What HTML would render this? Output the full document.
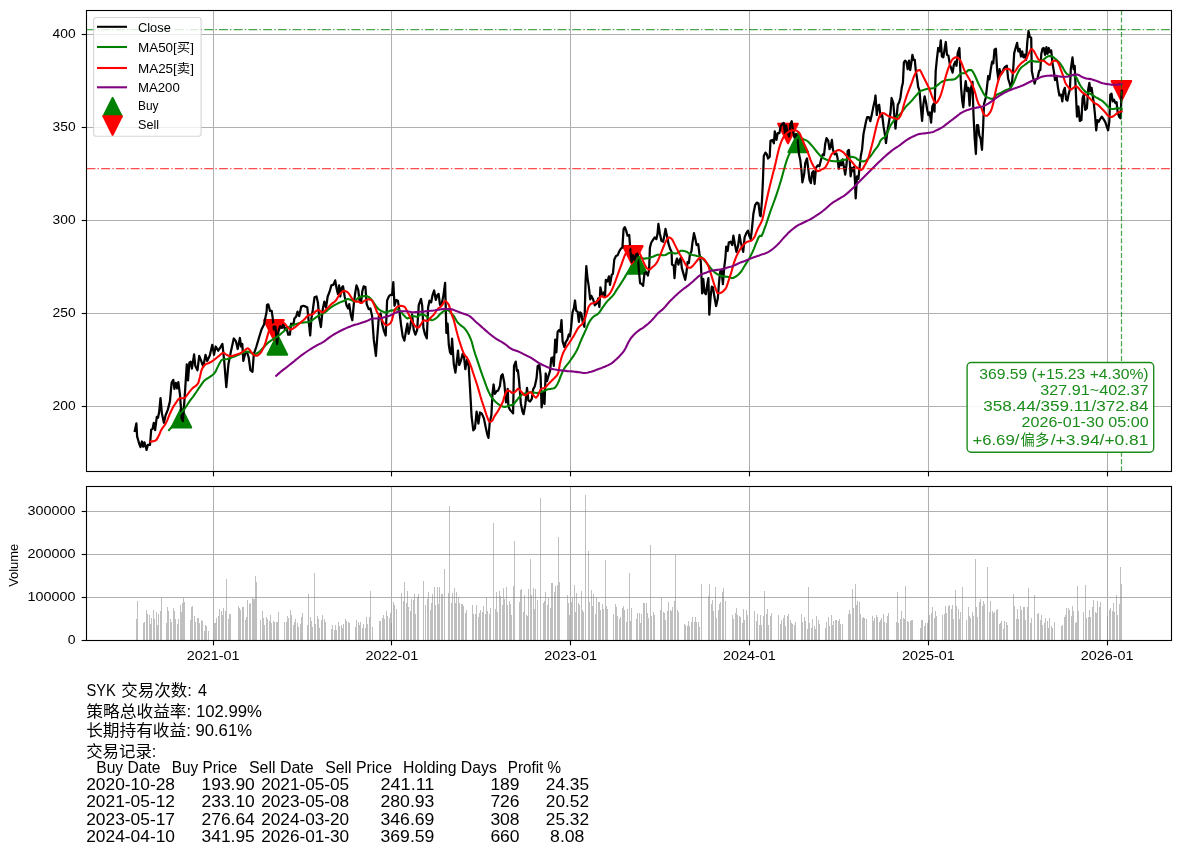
<!DOCTYPE html>
<html><head><meta charset="utf-8"><title>SYK</title><style>html,body{margin:0;padding:0;background:#fff}svg{display:block;will-change:transform}</style></head><body>
<svg width="1180" height="855" viewBox="0 0 1180 855" font-family="Liberation Sans, Noto Sans CJK SC, sans-serif">
<rect width="1180" height="855" fill="#fff"/>
<defs><clipPath id="c1"><rect x="86.5" y="10.5" width="1085.0" height="461.0"/></clipPath><clipPath id="c2"><rect x="86.5" y="486.5" width="1085.0" height="154.0"/></clipPath></defs>
<g clip-path="url(#c1)">
<line x1="213.50" x2="213.50" y1="10.5" y2="471.5" stroke="#b0b0b0" stroke-width="1.05"/>
<line x1="391.50" x2="391.50" y1="10.5" y2="471.5" stroke="#b0b0b0" stroke-width="1.05"/>
<line x1="570.50" x2="570.50" y1="10.5" y2="471.5" stroke="#b0b0b0" stroke-width="1.05"/>
<line x1="749.50" x2="749.50" y1="10.5" y2="471.5" stroke="#b0b0b0" stroke-width="1.05"/>
<line x1="928.50" x2="928.50" y1="10.5" y2="471.5" stroke="#b0b0b0" stroke-width="1.05"/>
<line x1="1107.50" x2="1107.50" y1="10.5" y2="471.5" stroke="#b0b0b0" stroke-width="1.05"/>
<line x1="86.5" x2="1171.5" y1="406.50" y2="406.50" stroke="#b0b0b0" stroke-width="1.05"/>
<line x1="86.5" x2="1171.5" y1="313.50" y2="313.50" stroke="#b0b0b0" stroke-width="1.05"/>
<line x1="86.5" x2="1171.5" y1="220.50" y2="220.50" stroke="#b0b0b0" stroke-width="1.05"/>
<line x1="86.5" x2="1171.5" y1="127.50" y2="127.50" stroke="#b0b0b0" stroke-width="1.05"/>
<line x1="86.5" x2="1171.5" y1="34.50" y2="34.50" stroke="#b0b0b0" stroke-width="1.05"/>
<path d="M181.38,407.93L171.56,427.57L191.20,427.57Z" fill="#008000" stroke="#008000" stroke-width="2.08" stroke-linejoin="round"/>
<path d="M277.34,335.01L267.52,354.65L287.16,354.65Z" fill="#008000" stroke="#008000" stroke-width="2.08" stroke-linejoin="round"/>
<path d="M637.18,254.03L627.36,273.67L647.00,273.67Z" fill="#008000" stroke="#008000" stroke-width="2.08" stroke-linejoin="round"/>
<path d="M798.26,132.55L788.44,152.19L808.08,152.19Z" fill="#008000" stroke="#008000" stroke-width="2.08" stroke-linejoin="round"/>
<path d="M273.91,339.76L264.09,320.12L283.73,320.12Z" fill="#ff0000" stroke="#ff0000" stroke-width="2.08" stroke-linejoin="round"/>
<path d="M632.78,265.69L622.96,246.05L642.60,246.05Z" fill="#ff0000" stroke="#ff0000" stroke-width="2.08" stroke-linejoin="round"/>
<path d="M787.98,143.38L778.16,123.74L797.80,123.74Z" fill="#ff0000" stroke="#ff0000" stroke-width="2.08" stroke-linejoin="round"/>
<path d="M1121.39,100.78L1111.57,81.14L1131.21,81.14Z" fill="#ff0000" stroke="#ff0000" stroke-width="2.08" stroke-linejoin="round"/>
<path d="M134.8,430.8L136.4,423.3L137.1,436.4L139.3,444.0L140.5,447.1L141.9,441.5L143.2,446.6L144.4,442.3L146.6,449.9L147.8,444.9L150.0,444.9L151.2,429.6L152.6,428.7L153.8,422.8L155.1,430.1L156.8,416.9L158.0,417.7L159.2,411.8L160.5,398.2L161.9,413.5L163.9,422.8L165.6,415.2L167.7,410.1L169.9,401.6L171.6,382.9L173.3,379.9L174.4,388.9L175.8,382.9L177.2,388.4L178.3,382.1L180.0,394.8L181.7,418.6L182.9,421.1L184.6,398.2L186.8,364.3L188.0,380.4L189.4,362.6L190.7,361.7L191.9,368.5L194.1,354.4L195.3,366.0L197.5,370.2L199.2,355.8L201.2,360.9L203.3,366.8L205.5,354.9L207.2,360.9L209.7,355.8L212.3,344.8L214.0,354.9L215.7,346.5L218.2,350.7L219.9,348.2L222.4,343.9L224.2,360.9L226.3,387.2L228.4,364.3L230.9,351.6L233.8,338.5L236.0,341.4L237.7,349.0L239.9,338.0L241.1,346.5L242.3,343.9L243.3,360.9L245.3,353.3L247.1,352.4L248.7,357.5L250.4,370.2L252.5,371.9L253.8,354.1L256.4,346.5L258.9,338.0L261.5,329.5L264.0,324.4L266.6,311.7L267.0,304.9L268.3,304.4L270.0,310.9L271.7,310.9L272.9,319.4L273.8,329.6L275.4,327.0L277.1,344.0L278.5,331.2L280.2,326.2L281.9,327.9L283.6,323.6L284.8,329.6L286.5,327.9L288.2,334.6L289.9,334.6L291.1,323.6L293.3,325.3L294.4,318.5L296.1,316.8L297.5,311.7L299.2,316.0L301.2,306.6L303.4,305.8L305.6,306.6L307.3,307.5L308.5,319.4L310.2,335.5L311.4,318.5L312.8,310.0L314.5,297.3L316.5,296.5L317.9,302.4L319.2,317.7L320.9,327.0L322.6,310.0L324.3,301.6L326.0,307.5L327.7,296.5L329.4,292.2L331.4,285.4L333.5,284.6L335.2,280.4L336.5,288.0L337.9,293.9L339.1,285.4L340.2,296.5L341.6,288.0L343.0,286.3L344.7,296.5L346.4,304.9L348.1,308.4L349.2,304.1L350.9,315.1L352.3,320.2L353.8,304.1L355.2,293.1L356.5,285.4L358.2,289.7L359.4,299.9L361.1,302.4L362.3,291.4L363.7,286.3L365.4,287.1L366.7,304.1L368.7,309.2L370.4,308.4L372.1,316.0L373.8,339.7L375.9,355.8L377.2,338.0L378.9,316.0L380.6,313.4L382.3,324.5L384.0,331.2L385.7,335.5L387.1,300.7L388.8,296.5L390.5,294.8L392.1,294.8L393.3,282.1L394.5,305.8L396.2,299.9L397.9,300.7L399.3,310.0L401.0,324.5L402.7,336.3L404.4,340.6L406.1,330.4L407.4,323.6L408.6,333.8L410.3,326.2L412.0,314.3L413.7,329.6L415.4,334.6L417.1,330.4L418.8,304.9L421.0,299.0L422.2,305.8L423.4,327.9L425.1,334.6L426.8,338.4L428.1,307.5L429.5,300.7L431.2,302.4L432.4,295.6L434.1,290.5L435.8,299.9L437.4,294.8L438.6,293.9L440.0,304.9L441.7,304.1L443.4,295.6L445.1,282.9L446.4,332.9L447.6,323.6L448.8,344.8L450.0,352.4L451.2,354.0L452.1,338.7L453.8,364.2L455.4,372.6L457.1,359.1L458.0,350.6L459.2,365.0L460.9,360.8L462.6,354.0L463.9,355.7L465.3,369.2L467.0,359.9L468.7,365.9L469.9,386.2L471.6,416.7L473.3,430.3L474.9,428.6L476.6,411.7L478.4,423.5L480.0,412.5L481.7,413.4L483.9,418.4L485.6,426.9L487.3,434.6L488.5,437.9L489.7,422.7L491.4,415.1L492.4,394.7L493.6,384.5L494.8,393.8L496.5,391.3L498.2,390.4L499.9,386.2L501.2,376.0L502.6,374.3L504.3,382.8L506.0,402.3L507.7,388.8L508.4,406.6L510.1,410.0L511.8,411.7L513.1,413.4L514.0,365.9L515.7,361.6L516.9,370.9L517.9,370.1L519.1,381.1L520.8,403.2L522.5,411.7L523.6,414.2L525.3,404.9L527.0,387.9L528.4,400.6L530.1,401.5L531.8,398.9L533.1,389.6L534.8,386.2L536.5,378.6L537.7,365.9L539.4,365.0L540.6,376.0L541.6,407.4L543.3,393.0L544.5,404.0L545.7,373.5L547.0,381.1L548.7,375.2L550.1,370.9L551.3,358.2L552.5,357.4L553.8,365.9L555.2,339.6L556.4,352.3L557.6,331.9L558.9,330.2L560.3,331.9L561.5,320.1L562.6,341.3L564.4,347.2L565.7,342.1L567.4,339.6L568.8,334.5L570.0,336.2L571.1,327.7L572.5,312.4L573.9,308.2L575.0,300.5L576.2,310.7L577.6,311.6L578.9,321.8L580.1,312.4L581.3,313.3L582.7,321.8L584.4,326.8L585.5,283.2L586.3,266.2L587.5,278.1L588.8,286.6L590.2,299.3L591.4,295.9L593.1,299.3L594.8,305.3L596.5,303.6L598.2,298.5L599.4,307.0L600.4,287.4L602.1,295.1L603.8,292.5L605.0,296.8L605.8,279.8L607.5,281.5L608.9,276.4L610.0,284.9L611.7,274.7L612.9,273.9L614.3,259.5L616.0,256.1L617.7,255.2L619.4,251.0L621.1,248.4L622.4,247.6L623.6,228.9L624.8,227.2L626.2,230.6L627.5,235.7L629.2,234.9L630.4,251.0L631.6,262.0L632.9,255.2L634.6,260.3L636.0,254.4L637.7,253.5L638.9,270.5L640.1,283.2L641.8,284.1L643.1,285.8L644.5,273.0L646.2,272.2L647.9,275.6L649.1,269.6L649.9,247.6L651.3,242.5L653.0,239.9L654.7,237.4L656.4,239.1L657.5,234.0L658.4,223.8L659.8,233.2L661.4,240.8L663.1,241.7L664.3,235.7L665.5,228.9L666.9,235.7L668.6,244.2L670.3,249.3L671.6,251.8L672.0,264.6L673.7,265.4L674.5,278.1L675.7,262.9L677.0,258.6L678.4,264.6L679.6,260.3L680.8,257.8L681.8,267.9L683.5,273.9L685.2,279.8L686.4,273.0L687.6,262.0L688.9,262.9L689.8,255.2L691.5,251.0L692.6,241.7L694.0,233.2L695.4,239.1L696.6,245.0L698.2,244.2L699.4,253.5L700.8,262.0L701.6,279.8L702.1,293.4L703.3,279.0L704.5,292.5L705.9,294.2L707.2,284.9L708.4,278.1L709.3,314.6L710.6,296.8L711.8,286.6L713.0,287.4L714.4,296.8L716.1,306.1L717.8,298.5L719.1,281.5L720.3,271.3L721.5,269.6L722.9,284.1L724.2,267.9L725.4,257.8L726.2,246.7L727.6,251.0L728.8,242.5L730.5,241.7L732.2,245.0L733.4,235.7L734.7,243.3L736.4,251.8L738.1,245.9L739.5,234.9L740.7,241.7L741.9,246.7L743.2,251.8L744.6,237.4L746.3,233.2L748.0,230.6L749.6,236.6L750.8,239.1L752.0,228.1L753.4,213.7L755.1,205.2L756.8,202.6L758.5,203.5L760.0,215.4L760.7,216.2L762.0,200.1L762.9,181.4L763.8,156.0L765.5,152.6L766.8,154.3L768.0,158.5L769.7,156.8L770.5,140.7L772.2,139.9L773.9,143.3L774.8,131.4L776.5,139.9L777.7,133.1L779.4,133.1L780.7,126.3L782.4,123.8L783.8,122.9L785.0,133.9L786.1,125.5L787.5,132.2L789.2,136.5L790.5,123.8L791.7,121.2L792.9,129.7L794.3,137.3L796.0,133.9L797.7,140.7L799.0,154.3L800.2,159.4L801.4,169.6L802.4,182.3L804.1,174.6L805.3,162.8L807.0,158.5L808.2,168.7L809.5,179.7L810.9,183.1L812.1,172.9L813.3,171.2L814.6,184.0L816.0,167.8L817.7,165.3L819.4,166.2L821.1,159.4L822.8,154.3L824.0,155.1L825.2,144.1L826.5,138.2L828.2,140.7L829.6,149.2L830.8,145.8L831.9,139.9L833.0,150.0L834.7,154.3L836.4,153.4L837.5,157.7L838.7,168.7L840.1,161.1L841.4,165.3L842.6,159.4L843.8,166.2L845.2,174.6L846.5,164.5L847.7,150.9L848.9,150.0L849.9,162.8L850.6,176.3L852.0,167.8L853.3,171.2L854.0,167.0L855.0,181.4L855.7,198.4L857.0,176.3L858.4,178.9L859.6,167.0L860.8,156.0L862.1,149.2L863.5,133.9L864.7,128.0L865.9,122.0L867.2,117.0L868.9,117.0L870.3,121.2L871.5,116.1L873.2,107.6L874.9,100.0L875.5,95.5L876.8,115.0L878.0,105.7L879.2,104.8L880.5,116.7L882.2,115.0L883.6,126.9L884.8,133.7L886.0,143.0L887.3,132.0L889.0,121.8L890.4,113.3L891.6,98.0L893.3,103.1L894.4,116.7L895.5,128.6L896.6,116.7L897.8,104.8L899.2,102.3L900.5,97.2L901.7,87.8L902.9,82.8L903.9,62.4L905.1,60.7L906.3,61.6L907.7,69.2L909.0,60.7L910.2,70.0L911.4,62.4L912.4,54.8L913.6,59.9L914.8,59.9L915.8,70.9L917.0,77.7L918.2,87.0L919.5,90.4L920.9,108.2L922.1,120.9L923.3,104.8L924.6,96.3L926.0,102.3L927.2,109.9L928.4,115.0L929.7,112.5L931.1,122.6L932.3,106.5L933.5,104.0L934.5,111.6L935.7,70.9L936.9,59.0L938.2,48.0L939.6,51.4L940.8,40.4L941.9,56.5L943.3,57.3L944.7,48.8L945.8,42.0L947.0,54.8L948.4,55.6L949.8,64.1L951.4,69.2L952.6,72.6L953.8,65.0L955.2,61.6L956.5,65.8L957.7,53.1L959.4,48.0L960.3,69.2L961.1,87.8L962.3,101.4L963.3,107.4L964.5,91.2L965.7,81.1L967.0,91.2L968.4,87.8L969.6,105.7L970.8,88.7L972.5,81.9L973.5,115.0L974.7,138.7L975.9,154.0L976.9,125.2L978.1,125.2L979.3,135.3L980.6,138.7L982.0,149.8L983.2,125.2L984.0,104.0L985.7,98.0L987.1,86.2L988.2,76.0L989.4,79.4L990.8,69.2L992.1,61.6L993.3,63.3L994.5,49.7L995.9,48.8L997.2,70.9L998.4,79.4L999.6,69.2L1001.0,74.3L1002.3,72.6L1003.5,69.2L1005.2,66.7L1006.9,65.8L1008.1,78.5L1009.5,82.8L1010.8,87.8L1012.0,82.8L1013.2,69.2L1014.2,53.1L1015.4,48.8L1017.1,42.9L1018.3,51.4L1019.6,48.8L1021.0,56.5L1022.2,51.4L1023.4,57.3L1024.7,54.8L1026.1,59.9L1027.3,42.0L1028.5,31.0L1029.8,37.0L1031.2,37.8L1031.8,70.9L1033.2,77.7L1034.6,83.6L1035.8,79.4L1037.5,78.5L1039.1,70.9L1040.3,70.0L1041.3,53.9L1042.5,48.8L1043.7,48.0L1045.1,54.8L1046.4,47.1L1047.6,53.9L1048.8,48.0L1050.0,52.2L1051.2,50.5L1052.6,64.1L1053.8,70.9L1055.0,80.2L1056.7,77.7L1058.0,87.8L1059.4,95.5L1061.1,94.6L1062.3,101.4L1063.5,91.2L1064.8,87.8L1066.2,99.7L1067.4,100.6L1068.5,94.6L1069.9,89.5L1070.8,69.2L1072.5,57.3L1073.6,69.2L1074.7,65.8L1075.8,91.2L1077.0,116.7L1078.4,106.5L1079.8,120.9L1081.4,120.1L1082.6,98.0L1083.8,94.6L1085.2,109.9L1086.9,108.2L1088.2,89.5L1089.4,82.8L1090.3,91.2L1091.6,87.8L1092.8,96.3L1094.0,104.8L1095.0,115.0L1096.2,130.3L1097.4,120.1L1098.7,121.8L1100.1,119.2L1101.8,116.7L1103.5,119.2L1105.2,121.8L1106.9,126.9L1108.1,130.3L1109.3,121.8L1110.3,94.6L1111.5,93.8L1112.7,101.4L1114.0,99.7L1115.4,103.1L1116.6,102.3L1117.7,112.5L1119.1,116.7L1120.5,118.4L1121.7,90.9" fill="none" stroke="#000" stroke-width="2.25" stroke-linejoin="round" stroke-linecap="square"/>
<path d="M169.0,430.1L170.5,428.4L172.0,426.5L173.5,424.5L175.0,422.2L176.5,419.6L178.0,417.0L179.5,414.7L181.0,412.9L182.5,411.3L184.0,409.6L185.5,407.5L187.0,405.2L188.5,402.8L190.0,400.7L191.5,398.7L193.0,396.8L194.5,394.7L196.0,392.5L197.5,390.2L199.0,387.9L200.5,385.8L202.0,383.6L203.5,381.6L205.0,380.1L206.5,379.0L208.0,378.1L209.5,377.2L211.0,376.1L212.5,375.0L214.0,373.7L215.5,371.7L217.0,368.4L218.5,365.4L220.0,362.5L221.5,360.1L223.0,359.5L224.5,359.3L226.0,359.3L227.5,359.0L229.0,358.6L230.5,358.0L232.0,357.4L233.5,356.8L235.0,356.2L236.5,355.6L238.0,355.0L239.5,354.3L241.0,353.6L242.5,353.0L244.0,352.4L245.5,351.8L247.0,351.6L248.5,351.8L250.0,352.3L251.5,353.1L253.0,354.2L254.5,354.4L256.0,353.9L257.5,353.0L259.0,352.1L260.5,350.7L262.0,349.0L263.5,347.4L265.0,345.9L266.5,344.3L268.0,342.8L269.5,341.6L271.0,340.6L272.5,339.7L274.0,338.7L275.5,337.7L277.0,336.8L278.5,335.7L280.0,334.6L281.5,333.3L283.0,332.0L284.5,330.7L286.0,329.4L287.5,328.1L289.0,327.0L290.5,326.2L292.0,325.6L293.5,325.0L295.0,324.4L296.5,323.9L298.0,323.4L299.5,323.0L301.0,322.8L302.5,322.6L304.0,322.5L305.5,322.3L307.0,322.2L308.5,322.0L310.0,321.7L311.5,320.8L313.0,319.6L314.5,318.5L316.0,317.4L317.5,316.4L319.0,315.4L320.5,314.6L322.0,313.9L323.5,313.2L325.0,312.3L326.5,311.1L328.0,309.8L329.5,308.5L331.0,307.4L332.5,306.4L334.0,305.4L335.5,304.6L337.0,303.8L338.5,303.0L340.0,302.4L341.5,301.8L343.0,301.2L344.5,300.5L346.0,299.6L347.5,299.0L349.0,299.2L350.5,299.7L352.0,300.4L353.5,301.4L355.0,301.3L356.5,299.4L358.0,298.0L359.5,297.2L361.0,296.7L362.5,296.4L364.0,296.1L365.5,296.0L367.0,296.1L368.5,296.9L370.0,298.0L371.5,299.6L373.0,301.6L374.5,303.9L376.0,306.2L377.5,308.0L379.0,309.5L380.5,310.5L382.0,311.3L383.5,311.9L385.0,312.5L386.5,312.5L388.0,311.8L389.5,311.0L391.0,310.6L392.5,310.4L394.0,310.1L395.5,309.6L397.0,309.2L398.5,309.5L400.0,310.8L401.5,312.3L403.0,314.3L404.5,316.1L406.0,317.6L407.5,318.5L409.0,318.1L410.5,317.1L412.0,316.2L413.5,316.0L415.0,316.4L416.5,316.8L418.0,316.5L419.5,315.3L421.0,314.3L422.5,314.4L424.0,314.9L425.5,315.6L427.0,316.8L428.5,318.0L430.0,319.5L431.5,320.2L433.0,319.9L434.5,319.2L436.0,318.3L437.5,317.0L439.0,315.3L440.5,313.8L442.0,312.4L443.5,311.2L445.0,310.6L446.5,310.2L448.0,310.1L449.5,311.2L451.0,313.2L452.5,314.6L454.0,316.2L455.5,318.9L457.0,321.6L458.5,323.3L460.0,324.7L461.5,325.9L463.0,327.0L464.5,328.3L466.0,330.1L467.5,332.5L469.0,335.2L470.5,338.5L472.0,342.7L473.5,348.5L475.0,353.5L476.5,357.9L478.0,362.3L479.5,366.9L481.0,371.3L482.5,375.5L484.0,379.6L485.5,383.8L487.0,388.0L488.5,391.5L490.0,394.6L491.5,397.1L493.0,399.0L494.5,400.7L496.0,402.2L497.5,403.5L499.0,404.6L500.5,405.4L502.0,406.2L503.5,406.8L505.0,406.9L506.5,406.5L508.0,406.0L509.5,405.6L511.0,405.2L512.5,404.8L514.0,403.8L515.5,401.9L517.0,400.0L518.5,398.0L520.0,396.3L521.5,394.9L523.0,393.9L524.5,393.5L526.0,393.3L527.5,393.0L529.0,392.6L530.5,392.3L532.0,392.2L533.5,392.4L535.0,392.7L536.5,393.0L538.0,392.9L539.5,392.6L541.0,392.1L542.5,391.6L544.0,390.9L545.5,390.2L547.0,389.6L548.5,389.3L550.0,389.0L551.5,388.7L553.0,388.4L554.5,388.0L556.0,386.5L557.5,383.9L559.0,380.7L560.5,376.7L562.0,373.1L563.5,369.9L565.0,367.3L566.5,365.4L568.0,363.6L569.5,361.6L571.0,359.5L572.5,357.3L574.0,355.1L575.5,352.7L577.0,350.0L578.5,346.6L580.0,342.9L581.5,339.3L583.0,336.0L584.5,332.7L586.0,329.4L587.5,325.8L589.0,322.5L590.5,320.1L592.0,318.2L593.5,316.6L595.0,315.6L596.5,314.8L598.0,313.9L599.5,312.2L601.0,309.9L602.5,307.7L604.0,305.6L605.5,303.5L607.0,301.6L608.5,299.9L610.0,298.5L611.5,297.1L613.0,295.4L614.5,293.3L616.0,290.9L617.5,288.5L619.0,286.3L620.5,284.1L622.0,281.8L623.5,279.4L625.0,276.9L626.5,274.3L628.0,271.9L629.5,269.8L631.0,267.9L632.5,265.9L634.0,264.1L635.5,262.3L637.0,259.9L638.5,257.1L640.0,257.2L641.5,258.1L643.0,258.6L644.5,258.6L646.0,258.4L647.5,258.2L649.0,257.9L650.5,257.5L652.0,257.0L653.5,256.5L655.0,255.8L656.5,255.1L658.0,254.7L659.5,254.8L661.0,254.9L662.5,255.1L664.0,255.2L665.5,255.0L667.0,254.1L668.5,253.2L670.0,252.7L671.5,252.8L673.0,253.1L674.5,253.4L676.0,253.5L677.5,253.0L679.0,251.8L680.5,250.8L682.0,250.7L683.5,250.9L685.0,251.2L686.5,251.7L688.0,252.7L689.5,253.8L691.0,254.5L692.5,254.9L694.0,255.2L695.5,255.5L697.0,255.9L698.5,256.2L700.0,256.6L701.5,257.3L703.0,258.8L704.5,260.6L706.0,262.3L707.5,264.1L709.0,265.9L710.5,267.8L712.0,269.7L713.5,271.3L715.0,272.6L716.5,273.6L718.0,274.5L719.5,275.1L721.0,275.7L722.5,276.2L724.0,276.5L725.5,276.6L727.0,276.8L728.5,277.1L730.0,277.6L731.5,278.1L733.0,278.0L734.5,277.3L736.0,276.3L737.5,275.3L739.0,274.0L740.5,272.3L742.0,270.3L743.5,267.7L745.0,265.2L746.5,262.9L748.0,260.5L749.5,257.9L751.0,255.1L752.5,252.0L754.0,248.6L755.5,244.7L757.0,241.1L758.5,237.5L760.0,235.7L761.5,236.1L763.0,232.8L764.5,228.6L766.0,224.6L767.5,220.2L769.0,215.6L770.5,211.1L772.0,207.0L773.5,203.0L775.0,198.9L776.5,194.6L778.0,190.0L779.5,185.3L781.0,180.4L782.5,174.9L784.0,169.4L785.5,164.3L787.0,159.6L788.5,155.6L790.0,152.6L791.5,149.5L793.0,146.0L794.5,142.8L796.0,139.6L797.5,137.1L799.0,136.5L800.5,137.4L802.0,138.6L803.5,139.3L805.0,139.9L806.5,140.5L808.0,141.5L809.5,143.0L811.0,144.7L812.5,146.4L814.0,148.2L815.5,150.1L817.0,152.0L818.5,153.8L820.0,155.4L821.5,156.8L823.0,157.9L824.5,158.8L826.0,159.5L827.5,160.0L829.0,160.4L830.5,160.8L832.0,161.0L833.5,161.2L835.0,161.3L836.5,161.4L838.0,161.3L839.5,160.9L841.0,160.4L842.5,160.1L844.0,159.9L845.5,159.7L847.0,159.3L848.5,158.4L850.0,157.2L851.5,156.8L853.0,157.0L854.5,157.4L856.0,158.0L857.5,159.4L859.0,160.3L860.5,160.9L862.0,161.3L863.5,161.4L865.0,160.9L866.5,160.1L868.0,158.9L869.5,157.3L871.0,155.5L872.5,153.5L874.0,151.2L875.5,149.2L877.0,147.3L878.5,145.1L880.0,141.6L881.5,139.3L883.0,138.2L884.5,137.3L886.0,135.6L887.5,132.6L889.0,128.8L890.5,125.5L892.0,123.1L893.5,121.1L895.0,119.3L896.5,117.6L898.0,116.1L899.5,114.7L901.0,113.1L902.5,111.2L904.0,109.1L905.5,107.1L907.0,105.4L908.5,103.9L910.0,102.5L911.5,100.9L913.0,99.2L914.5,97.4L916.0,95.6L917.5,94.0L919.0,92.3L920.5,91.2L922.0,90.4L923.5,89.9L925.0,89.5L926.5,89.1L928.0,88.8L929.5,88.6L931.0,88.5L932.5,88.3L934.0,87.9L935.5,86.8L937.0,85.6L938.5,84.4L940.0,83.0L941.5,82.0L943.0,81.2L944.5,80.6L946.0,80.2L947.5,80.0L949.0,79.8L950.5,79.7L952.0,79.6L953.5,79.5L955.0,79.1L956.5,77.9L958.0,76.5L959.5,74.7L961.0,73.5L962.5,73.2L964.0,73.1L965.5,72.9L967.0,71.4L968.5,70.1L970.0,70.0L971.5,70.1L973.0,71.9L974.5,74.8L976.0,78.0L977.5,81.5L979.0,84.7L980.5,87.7L982.0,90.6L983.5,93.6L985.0,95.6L986.5,96.8L988.0,97.6L989.5,98.2L991.0,98.7L992.5,98.9L994.0,97.8L995.5,95.8L997.0,94.5L998.5,93.9L1000.0,93.3L1001.5,92.7L1003.0,91.7L1004.5,90.8L1006.0,90.1L1007.5,89.6L1009.0,89.0L1010.5,87.8L1012.0,85.7L1013.5,83.1L1015.0,79.7L1016.5,75.6L1018.0,72.4L1019.5,69.7L1021.0,67.8L1022.5,66.5L1024.0,65.5L1025.5,64.3L1027.0,63.2L1028.5,62.2L1030.0,61.2L1031.5,60.7L1033.0,61.0L1034.5,61.4L1036.0,61.6L1037.5,61.6L1039.0,61.6L1040.5,61.5L1042.0,60.7L1043.5,59.5L1045.0,58.4L1046.5,57.1L1048.0,56.3L1049.5,56.0L1051.0,56.1L1052.5,56.7L1054.0,57.7L1055.5,59.0L1057.0,60.3L1058.5,61.7L1060.0,63.4L1061.5,65.5L1063.0,67.9L1064.5,70.9L1066.0,73.0L1067.5,74.4L1069.0,75.1L1070.5,75.1L1072.0,75.1L1073.5,75.3L1075.0,76.2L1076.5,77.7L1078.0,81.0L1079.5,84.1L1081.0,86.5L1082.5,88.6L1084.0,90.3L1085.5,91.8L1087.0,92.6L1088.5,93.1L1090.0,93.7L1091.5,94.5L1093.0,95.4L1094.5,96.4L1096.0,97.3L1097.5,98.1L1099.0,99.0L1100.5,99.9L1102.0,100.7L1103.5,101.9L1105.0,103.4L1106.5,105.0L1108.0,106.7L1109.5,108.1L1111.0,108.7L1112.5,109.0L1114.0,109.0L1115.5,108.6L1117.0,108.2L1118.5,108.3L1120.0,108.5L1121.5,109.0L1121.7,109.1" fill="none" stroke="#008000" stroke-width="2.08" stroke-linejoin="round" stroke-linecap="square"/>
<path d="M150.4,441.5L151.9,441.4L153.4,441.2L154.9,440.8L156.4,439.9L157.9,437.4L159.4,434.3L160.9,430.6L162.4,428.1L163.9,426.2L165.4,424.1L166.9,421.1L168.4,417.4L169.9,413.7L171.4,410.5L172.9,407.6L174.4,405.0L175.9,402.8L177.4,400.5L178.9,398.7L180.4,398.2L181.9,398.2L183.4,398.2L184.9,398.0L186.4,396.0L187.9,393.8L189.4,391.9L190.9,390.1L192.4,388.4L193.9,387.1L195.4,386.1L196.9,384.9L198.4,382.7L199.9,376.9L201.4,370.5L202.9,367.2L204.4,365.2L205.9,364.1L207.4,363.5L208.9,363.0L210.4,362.3L211.9,361.3L213.4,360.3L214.9,359.2L216.4,358.0L217.9,356.8L219.4,355.6L220.9,354.2L222.4,353.0L223.9,352.9L225.4,354.0L226.9,355.0L228.4,355.7L229.9,356.1L231.4,356.0L232.9,355.7L234.4,355.2L235.9,354.8L237.4,354.3L238.9,353.8L240.4,353.2L241.9,352.3L243.4,351.2L244.9,350.1L246.4,348.9L247.9,348.2L249.4,349.5L250.9,351.7L252.4,353.6L253.9,355.0L255.4,355.6L256.9,355.8L258.4,355.1L259.9,353.6L261.4,351.8L262.9,349.1L264.4,345.8L265.9,341.4L267.4,336.1L268.9,331.0L270.4,327.0L271.9,325.3L273.4,324.3L274.9,323.7L276.4,323.4L277.9,323.1L279.4,322.9L280.9,322.8L282.4,322.8L283.9,323.1L285.4,324.4L286.9,326.5L288.4,328.0L289.9,329.3L291.4,329.4L292.9,328.7L294.4,327.7L295.9,326.6L297.4,325.2L298.9,323.9L300.4,322.7L301.9,321.4L303.4,320.2L304.9,318.8L306.4,317.0L307.9,315.5L309.4,314.9L310.9,314.7L312.4,314.4L313.9,313.4L315.4,311.5L316.9,310.6L318.4,310.1L319.9,310.7L321.4,312.3L322.9,312.4L324.4,311.2L325.9,309.6L327.4,308.2L328.9,306.7L330.4,305.1L331.9,303.7L333.4,302.6L334.9,301.5L336.4,299.8L337.9,297.2L339.4,294.6L340.9,293.0L342.4,291.6L343.9,290.9L345.4,291.1L346.9,291.8L348.4,293.0L349.9,295.2L351.4,297.6L352.9,299.6L354.4,301.2L355.9,301.6L357.4,301.6L358.9,301.6L360.4,302.9L361.9,303.0L363.4,301.6L364.9,300.5L366.4,299.9L367.9,299.4L369.4,299.4L370.9,299.7L372.4,301.1L373.9,304.2L375.4,307.9L376.9,311.8L378.4,314.4L379.9,316.5L381.4,319.0L382.9,322.0L384.4,323.9L385.9,325.1L387.4,325.2L388.9,324.4L390.4,323.2L391.9,320.2L393.4,314.4L394.9,309.6L396.4,307.5L397.9,306.5L399.4,306.0L400.9,305.8L402.4,306.0L403.9,306.4L405.4,307.7L406.9,310.7L408.4,313.7L409.9,316.8L411.4,319.8L412.9,322.7L414.4,325.1L415.9,326.7L417.4,327.7L418.9,327.3L420.4,325.1L421.9,322.8L423.4,320.5L424.9,320.4L426.4,320.9L427.9,320.9L429.4,319.3L430.9,317.5L432.4,316.1L433.9,314.5L435.4,312.3L436.9,309.9L438.4,308.4L439.9,307.3L441.4,306.1L442.9,303.9L444.4,301.2L445.9,301.1L447.4,302.9L448.9,304.9L450.4,309.9L451.9,315.0L453.4,318.8L454.9,324.3L456.4,330.6L457.9,336.1L459.4,341.1L460.9,345.6L462.4,350.2L463.9,353.9L465.4,355.9L466.9,357.5L468.4,360.2L469.9,363.7L471.4,367.6L472.9,372.2L474.4,376.8L475.9,381.2L477.4,385.8L478.9,390.9L480.4,396.3L481.9,401.1L483.4,405.5L484.9,410.1L486.4,414.8L487.9,418.9L489.4,421.8L490.9,421.8L492.4,420.5L493.9,417.2L495.4,414.9L496.9,412.7L498.4,410.2L499.9,407.6L501.4,404.8L502.9,401.7L504.4,396.4L505.9,392.3L507.4,390.5L508.9,390.7L510.4,391.4L511.9,392.9L513.4,392.8L514.9,392.1L516.4,390.5L517.9,388.8L519.4,389.4L520.9,391.3L522.4,393.0L523.9,394.9L525.4,395.5L526.9,394.3L528.4,393.0L529.9,392.4L531.4,392.3L532.9,394.7L534.4,396.5L535.9,397.7L537.4,396.2L538.9,393.3L540.4,389.7L541.9,388.5L543.4,388.2L544.9,387.7L546.4,386.3L547.9,384.6L549.4,383.0L550.9,381.6L552.4,380.1L553.9,378.6L555.4,377.0L556.9,375.5L558.4,372.5L559.9,363.8L561.4,357.8L562.9,353.5L564.4,350.4L565.9,347.8L567.4,345.5L568.9,343.3L570.4,341.1L571.9,338.8L573.4,336.4L574.9,333.7L576.4,330.9L577.9,328.4L579.4,326.5L580.9,325.2L582.4,323.8L583.9,321.2L585.4,317.4L586.9,312.2L588.4,307.1L589.9,304.8L591.4,303.6L592.9,303.2L594.4,302.9L595.9,302.1L597.4,300.9L598.9,299.3L600.4,296.9L601.9,296.0L603.4,297.3L604.9,297.5L606.4,296.7L607.9,295.6L609.4,294.0L610.9,291.7L612.4,288.8L613.9,285.1L615.4,281.2L616.9,277.0L618.4,272.9L619.9,268.7L621.4,264.6L622.9,260.3L624.4,256.3L625.9,253.0L627.4,250.4L628.9,248.0L630.4,246.2L631.9,245.9L633.4,246.4L634.9,247.2L636.4,248.3L637.9,250.3L639.4,252.9L640.9,255.8L642.4,259.4L643.9,262.8L645.4,266.2L646.9,268.3L648.4,269.5L649.9,269.4L651.4,268.1L652.9,266.7L654.4,265.5L655.9,263.9L657.4,261.7L658.9,258.3L660.4,254.6L661.9,250.8L663.4,247.0L664.9,243.3L666.4,240.2L667.9,237.8L669.4,237.5L670.9,238.1L672.4,239.8L673.9,242.9L675.4,245.9L676.9,248.9L678.4,251.8L679.9,254.5L681.4,257.0L682.9,259.7L684.4,262.3L685.9,265.2L687.4,267.2L688.9,267.8L690.4,267.8L691.9,266.7L693.4,265.2L694.9,263.4L696.4,261.4L697.9,259.5L699.4,257.9L700.9,257.8L702.4,258.2L703.9,258.9L705.4,260.7L706.9,263.1L708.4,266.4L709.9,270.6L711.4,275.4L712.9,280.4L714.4,285.0L715.9,289.3L717.4,293.1L718.9,293.3L720.4,293.0L721.9,292.3L723.4,291.1L724.9,289.6L726.4,287.2L727.9,282.9L729.4,278.1L730.9,273.7L732.4,268.4L733.9,262.9L735.4,258.8L736.9,255.2L738.4,252.2L739.9,249.7L741.4,247.4L742.9,245.5L744.4,243.9L745.9,242.6L747.4,241.7L748.9,241.3L750.4,241.0L751.9,240.2L753.4,238.6L754.9,236.2L756.4,232.2L757.9,228.5L759.4,225.8L760.9,223.1L762.4,219.5L763.9,213.0L765.4,205.6L766.9,198.7L768.4,192.0L769.9,185.7L771.4,179.8L772.9,173.8L774.4,167.9L775.9,161.8L777.4,155.0L778.9,148.9L780.4,144.1L781.9,140.2L783.4,137.3L784.9,135.0L786.4,133.4L787.9,132.2L789.4,131.3L790.9,130.8L792.4,130.4L793.9,130.2L795.4,130.3L796.9,130.9L798.4,131.8L799.9,133.9L801.4,137.1L802.9,140.8L804.4,144.7L805.9,148.1L807.4,151.4L808.9,155.4L810.4,159.7L811.9,163.2L813.4,166.0L814.9,168.1L816.4,170.1L817.9,171.2L819.4,170.8L820.9,169.9L822.4,169.1L823.9,168.5L825.4,167.3L826.9,164.7L828.4,161.6L829.9,157.9L831.4,154.6L832.9,153.1L834.4,152.1L835.9,151.2L837.4,150.3L838.9,150.1L840.4,150.5L841.9,151.3L843.4,152.4L844.9,154.0L846.4,155.7L847.9,157.7L849.4,159.3L850.9,160.8L852.4,162.4L853.9,164.4L855.4,166.2L856.9,167.4L858.4,168.5L859.9,169.4L861.4,169.9L862.9,168.5L864.4,165.8L865.9,163.3L867.4,160.2L868.9,156.2L870.4,150.9L871.9,145.2L873.4,139.2L874.9,132.8L876.4,126.2L877.9,120.7L879.4,116.3L880.9,113.9L882.4,113.1L883.9,113.2L885.4,114.2L886.9,115.2L888.4,116.0L889.9,116.7L891.4,117.2L892.9,117.7L894.4,118.1L895.9,118.8L897.4,119.2L898.9,118.3L900.4,116.0L901.9,112.4L903.4,106.5L904.9,101.3L906.4,96.7L907.9,92.5L909.4,88.7L910.9,85.0L912.4,80.8L913.9,76.5L915.4,73.3L916.9,71.0L918.4,70.3L919.9,70.0L921.4,72.6L922.9,75.8L924.4,78.8L925.9,81.8L927.4,84.7L928.9,87.8L930.4,91.9L931.9,96.2L933.4,99.7L934.9,102.6L936.4,102.9L937.9,101.0L939.4,98.3L940.9,94.6L942.4,89.8L943.9,84.1L945.4,77.7L946.9,72.6L948.4,68.1L949.9,64.3L951.4,60.8L952.9,58.8L954.4,57.8L955.9,57.3L957.4,57.6L958.9,58.6L960.4,60.4L961.9,63.9L963.4,67.9L964.9,71.6L966.4,74.3L967.9,76.8L969.4,79.3L970.9,81.9L972.4,85.1L973.9,88.9L975.4,93.5L976.9,99.4L978.4,103.7L979.9,105.8L981.4,108.0L982.9,112.4L984.4,115.2L985.9,115.8L987.4,115.6L988.9,114.0L990.4,111.8L991.9,108.4L993.4,102.5L994.9,94.7L996.4,87.7L997.9,81.9L999.4,77.5L1000.9,74.4L1002.4,72.1L1003.9,70.3L1005.4,69.0L1006.9,68.9L1008.4,69.0L1009.9,69.4L1011.4,71.8L1012.9,73.4L1014.4,72.2L1015.9,70.3L1017.4,67.9L1018.9,65.7L1020.4,64.1L1021.9,62.7L1023.4,61.6L1024.9,60.5L1026.4,58.7L1027.9,55.4L1029.4,52.3L1030.9,49.3L1032.4,49.3L1033.9,51.1L1035.4,53.9L1036.9,56.9L1038.4,59.3L1039.9,60.7L1041.4,60.7L1042.9,60.7L1044.4,61.1L1045.9,62.5L1047.4,63.6L1048.9,64.6L1050.4,64.8L1051.9,62.0L1053.4,60.7L1054.9,60.7L1056.4,61.0L1057.9,62.2L1059.4,65.5L1060.9,69.9L1062.4,73.9L1063.9,78.3L1065.4,83.0L1066.9,85.4L1068.4,87.2L1069.9,89.1L1071.4,89.4L1072.9,88.2L1074.4,87.0L1075.9,86.2L1077.4,86.9L1078.9,88.4L1080.4,90.6L1081.9,92.1L1083.4,93.1L1084.9,94.2L1086.4,95.3L1087.9,96.5L1089.4,97.9L1090.9,99.5L1092.4,101.1L1093.9,102.6L1095.4,103.6L1096.9,104.3L1098.4,105.2L1099.9,106.7L1101.4,108.3L1102.9,109.7L1104.4,111.3L1105.9,113.2L1107.4,115.2L1108.9,116.3L1110.4,116.9L1111.9,117.0L1113.4,116.2L1114.9,115.0L1116.4,113.8L1117.9,112.7L1119.4,111.9L1120.9,111.4L1121.7,111.3" fill="none" stroke="#ff0000" stroke-width="2.08" stroke-linejoin="round" stroke-linecap="square"/>
<path d="M276.2,375.8L277.7,374.4L279.2,373.1L280.7,371.8L282.2,370.6L283.7,369.4L285.2,368.4L286.7,367.2L288.2,366.0L289.7,364.8L291.2,363.6L292.7,362.4L294.2,361.2L295.7,359.9L297.2,358.7L298.7,357.5L300.2,356.3L301.7,355.2L303.2,354.1L304.7,353.0L306.2,352.0L307.7,351.0L309.2,350.0L310.7,349.0L312.2,348.1L313.7,347.2L315.2,346.3L316.7,345.4L318.2,344.6L319.7,343.9L321.2,343.2L322.7,342.4L324.2,341.4L325.7,340.3L327.2,339.1L328.7,337.9L330.2,336.8L331.7,335.8L333.2,334.9L334.7,334.0L336.2,333.1L337.7,332.3L339.2,331.5L340.7,330.7L342.2,330.0L343.7,329.3L345.2,328.6L346.7,327.9L348.2,327.3L349.7,326.7L351.2,326.1L352.7,325.6L354.2,325.1L355.7,324.6L357.2,324.2L358.7,323.7L360.2,323.3L361.7,322.8L363.2,322.3L364.7,321.8L366.2,321.2L367.7,320.6L369.2,320.0L370.7,319.0L372.2,318.5L373.7,318.5L375.2,318.5L376.7,318.5L378.2,318.5L379.7,318.5L381.2,318.2L382.7,317.8L384.2,317.3L385.7,316.8L387.2,316.4L388.7,315.9L390.2,315.4L391.7,314.7L393.2,313.9L394.7,313.1L396.2,312.5L397.7,311.8L399.2,311.3L400.7,311.2L402.2,311.2L403.7,311.2L405.2,311.2L406.7,311.3L408.2,311.5L409.7,311.8L411.2,312.1L412.7,312.2L414.2,312.2L415.7,312.1L417.2,312.0L418.7,311.8L420.2,311.7L421.7,311.6L423.2,311.5L424.7,311.4L426.2,311.2L427.7,311.1L429.2,311.0L430.7,310.8L432.2,310.7L433.7,310.5L435.2,310.3L436.7,310.0L438.2,309.8L439.7,309.6L441.2,309.3L442.7,309.1L444.2,308.9L445.7,308.9L447.2,309.0L448.7,309.1L450.2,309.1L451.7,309.2L453.2,309.8L454.7,310.4L456.2,311.0L457.7,311.6L459.2,312.1L460.7,312.7L462.2,313.3L463.7,313.8L465.2,314.3L466.7,314.8L468.2,315.4L469.7,316.2L471.2,317.4L472.7,318.8L474.2,320.3L475.7,321.7L477.2,323.0L478.7,324.3L480.2,325.6L481.7,326.9L483.2,328.3L484.7,329.6L486.2,330.9L487.7,332.2L489.2,333.5L490.7,334.7L492.2,335.9L493.7,337.0L495.2,338.1L496.7,339.1L498.2,340.0L499.7,340.9L501.2,341.7L502.7,342.6L504.2,343.5L505.7,344.6L507.2,345.8L508.7,347.1L510.2,348.2L511.7,349.0L513.2,349.7L514.7,350.2L516.2,350.7L517.7,351.2L519.2,351.9L520.7,352.6L522.2,353.4L523.7,354.2L525.2,354.9L526.7,355.7L528.2,356.4L529.7,357.1L531.2,357.9L532.7,358.8L534.2,359.8L535.7,360.9L537.2,362.0L538.7,362.9L540.2,363.7L541.7,364.5L543.2,365.2L544.7,365.9L546.2,366.6L547.7,367.3L549.2,367.9L550.7,368.5L552.2,368.9L553.7,369.3L555.2,369.5L556.7,369.8L558.2,370.0L559.7,370.2L561.2,370.4L562.7,370.6L564.2,370.8L565.7,370.9L567.2,371.1L568.7,371.2L570.2,371.3L571.7,371.4L573.2,371.5L574.7,371.7L576.2,371.9L577.7,372.1L579.2,372.3L580.7,372.5L582.2,372.8L583.7,373.0L585.2,373.0L586.7,372.8L588.2,372.5L589.7,372.1L591.2,371.8L592.7,371.3L594.2,370.8L595.7,370.1L597.2,369.5L598.7,369.0L600.2,368.4L601.7,367.9L603.2,367.3L604.7,366.7L606.2,366.0L607.7,365.4L609.2,364.6L610.7,363.8L612.2,362.8L613.7,361.7L615.2,360.3L616.7,358.9L618.2,357.4L619.7,355.9L621.2,354.3L622.7,352.6L624.2,350.6L625.7,348.0L627.2,344.8L628.7,341.7L630.2,339.2L631.7,337.2L633.2,335.5L634.7,333.9L636.2,332.5L637.7,331.3L639.2,330.2L640.7,329.2L642.2,328.3L643.7,327.3L645.2,326.1L646.7,324.9L648.2,323.7L649.7,322.3L651.2,320.9L652.7,319.3L654.2,317.6L655.7,315.8L657.2,314.1L658.7,312.6L660.2,311.3L661.7,310.2L663.2,308.9L664.7,307.3L666.2,305.5L667.7,303.7L669.2,302.0L670.7,300.4L672.2,298.9L673.7,297.5L675.2,296.0L676.7,294.7L678.2,293.3L679.7,292.0L681.2,290.7L682.7,289.5L684.2,288.4L685.7,287.3L687.2,286.2L688.7,285.1L690.2,283.8L691.7,282.5L693.2,281.2L694.7,279.8L696.2,278.5L697.7,277.1L699.2,275.8L700.7,274.8L702.2,274.0L703.7,273.5L705.2,272.9L706.7,272.4L708.2,271.8L709.7,271.3L711.2,270.8L712.7,270.5L714.2,270.3L715.7,270.1L717.2,269.9L718.7,269.8L720.2,269.5L721.7,269.2L723.2,268.8L724.7,268.4L726.2,267.9L727.7,267.5L729.2,267.1L730.7,266.7L732.2,266.2L733.7,265.6L735.2,265.0L736.7,264.3L738.2,263.5L739.7,262.9L741.2,262.3L742.7,261.7L744.2,261.2L745.7,260.6L747.2,260.1L748.7,259.4L750.2,258.7L751.7,258.1L753.2,257.5L754.7,257.0L756.2,256.5L757.7,256.0L759.2,255.5L760.7,254.9L762.2,254.3L763.7,253.9L765.2,253.4L766.7,252.8L768.2,252.1L769.7,251.2L771.2,250.2L772.7,249.0L774.2,247.8L775.7,246.5L777.2,245.1L778.7,243.6L780.2,241.9L781.7,240.1L783.2,238.4L784.7,236.7L786.2,235.2L787.7,233.6L789.2,232.1L790.7,230.8L792.2,229.5L793.7,228.3L795.2,227.2L796.7,226.1L798.2,225.2L799.7,224.4L801.2,223.7L802.7,223.0L804.2,222.3L805.7,221.5L807.2,220.8L808.7,220.1L810.2,219.3L811.7,218.5L813.2,217.6L814.7,216.7L816.2,215.7L817.7,214.7L819.2,213.7L820.7,212.6L822.2,211.5L823.7,210.3L825.2,209.1L826.7,207.7L828.2,206.4L829.7,205.0L831.2,203.8L832.7,202.7L834.2,201.7L835.7,200.8L837.2,199.9L838.7,199.0L840.2,198.1L841.7,197.2L843.2,196.3L844.7,195.3L846.2,194.2L847.7,192.9L849.2,191.6L850.7,190.2L852.2,188.8L853.7,187.4L855.2,185.8L856.7,184.3L858.2,182.8L859.7,181.3L861.2,179.8L862.7,178.3L864.2,176.8L865.7,175.3L867.2,173.8L868.7,172.3L870.2,170.8L871.7,169.3L873.2,167.8L874.7,166.3L876.2,164.8L877.7,163.3L879.2,161.8L880.7,160.4L882.2,159.0L883.7,157.6L885.2,156.2L886.7,154.9L888.2,153.6L889.7,152.4L891.2,151.1L892.7,150.0L894.2,148.9L895.7,147.9L897.2,147.0L898.7,146.0L900.2,144.9L901.7,143.7L903.2,142.6L904.7,141.4L906.2,140.4L907.7,139.4L909.2,138.5L910.7,137.6L912.2,136.8L913.7,136.2L915.2,135.5L916.7,134.9L918.2,134.3L919.7,133.9L921.2,133.7L922.7,133.5L924.2,133.4L925.7,133.2L927.2,133.0L928.7,132.8L930.2,132.6L931.7,132.3L933.2,131.9L934.7,131.2L936.2,130.4L937.7,129.7L939.2,129.0L940.7,128.2L942.2,127.3L943.7,126.3L945.2,125.1L946.7,123.9L948.2,122.8L949.7,121.6L951.2,120.5L952.7,119.4L954.2,118.2L955.7,117.1L957.2,115.9L958.7,114.7L960.2,113.5L961.7,112.6L963.2,111.8L964.7,111.1L966.2,110.5L967.7,109.9L969.2,109.4L970.7,109.0L972.2,108.6L973.7,108.3L975.2,107.9L976.7,107.6L978.2,107.4L979.7,107.1L981.2,106.8L982.7,106.4L984.2,105.8L985.7,105.1L987.2,104.2L988.7,103.3L990.2,102.4L991.7,101.3L993.2,100.1L994.7,98.9L996.2,97.8L997.7,96.8L999.2,95.8L1000.7,94.9L1002.2,94.0L1003.7,93.2L1005.2,92.4L1006.7,91.7L1008.2,90.9L1009.7,90.3L1011.2,89.7L1012.7,89.1L1014.2,88.6L1015.7,88.0L1017.2,87.5L1018.7,86.9L1020.2,86.4L1021.7,85.8L1023.2,85.2L1024.7,84.5L1026.2,83.7L1027.7,83.0L1029.2,82.2L1030.7,81.5L1032.2,80.8L1033.7,80.2L1035.2,79.6L1036.7,79.0L1038.2,78.3L1039.7,77.6L1041.2,76.9L1042.7,76.5L1044.2,76.2L1045.7,76.0L1047.2,75.8L1048.7,75.7L1050.2,75.6L1051.7,75.6L1053.2,75.6L1054.7,75.6L1056.2,75.8L1057.7,76.1L1059.2,76.4L1060.7,76.6L1062.2,76.7L1063.7,76.8L1065.2,76.8L1066.7,76.7L1068.2,76.4L1069.7,76.0L1071.2,75.5L1072.7,74.9L1074.2,74.6L1075.7,74.6L1077.2,74.6L1078.7,74.9L1080.2,75.9L1081.7,76.8L1083.2,77.4L1084.7,77.9L1086.2,78.4L1087.7,78.7L1089.2,78.9L1090.7,79.1L1092.2,79.4L1093.7,79.9L1095.2,80.4L1096.7,81.0L1098.2,81.5L1099.7,82.2L1101.2,82.8L1102.7,83.3L1104.2,83.6L1105.7,83.9L1107.2,84.1L1108.7,84.3L1110.2,84.5L1111.7,84.7L1113.2,84.8L1114.7,84.8L1116.2,84.7L1117.7,84.6L1119.2,84.4L1120.7,84.3L1121.7,84.1" fill="none" stroke="#800080" stroke-width="2.08" stroke-linejoin="round" stroke-linecap="square"/>
<line x1="86.5" x2="1171.5" y1="29.5" y2="29.5" stroke="#008000" stroke-opacity="0.7" stroke-width="1.25" stroke-dasharray="8.89 2.22 1.39 2.22"/>
<line x1="86.5" x2="1171.5" y1="168.5" y2="168.5" stroke="#ff0000" stroke-opacity="0.7" stroke-width="1.25" stroke-dasharray="8.89 2.22 1.39 2.22"/>
<line x1="1121.50" x2="1121.50" y1="471.5" y2="10.5" stroke="#008000" stroke-opacity="0.7" stroke-width="1.25" stroke-dasharray="5.14 2.22"/>
</g>
<rect x="86.5" y="10.5" width="1085.0" height="461.0" fill="none" stroke="#000" stroke-width="1.11"/>
<line x1="213.50" x2="213.50" y1="471.5" y2="476.36" stroke="#000" stroke-width="1.11"/>
<line x1="213.50" x2="213.50" y1="640.5" y2="645.36" stroke="#000" stroke-width="1.11"/>
<line x1="391.50" x2="391.50" y1="471.5" y2="476.36" stroke="#000" stroke-width="1.11"/>
<line x1="391.50" x2="391.50" y1="640.5" y2="645.36" stroke="#000" stroke-width="1.11"/>
<line x1="570.50" x2="570.50" y1="471.5" y2="476.36" stroke="#000" stroke-width="1.11"/>
<line x1="570.50" x2="570.50" y1="640.5" y2="645.36" stroke="#000" stroke-width="1.11"/>
<line x1="749.50" x2="749.50" y1="471.5" y2="476.36" stroke="#000" stroke-width="1.11"/>
<line x1="749.50" x2="749.50" y1="640.5" y2="645.36" stroke="#000" stroke-width="1.11"/>
<line x1="928.50" x2="928.50" y1="471.5" y2="476.36" stroke="#000" stroke-width="1.11"/>
<line x1="928.50" x2="928.50" y1="640.5" y2="645.36" stroke="#000" stroke-width="1.11"/>
<line x1="1107.50" x2="1107.50" y1="471.5" y2="476.36" stroke="#000" stroke-width="1.11"/>
<line x1="1107.50" x2="1107.50" y1="640.5" y2="645.36" stroke="#000" stroke-width="1.11"/>
<line x1="81.64" x2="86.5" y1="406.50" y2="406.50" stroke="#000" stroke-width="1.11"/>
<text x="52.60" y="410.40" font-size="12.2" text-anchor="start" fill="#000" textLength="23.0" lengthAdjust="spacingAndGlyphs">200</text>
<line x1="81.64" x2="86.5" y1="313.50" y2="313.50" stroke="#000" stroke-width="1.11"/>
<text x="52.60" y="317.40" font-size="12.2" text-anchor="start" fill="#000" textLength="23.0" lengthAdjust="spacingAndGlyphs">250</text>
<line x1="81.64" x2="86.5" y1="220.50" y2="220.50" stroke="#000" stroke-width="1.11"/>
<text x="52.60" y="224.40" font-size="12.2" text-anchor="start" fill="#000" textLength="23.0" lengthAdjust="spacingAndGlyphs">300</text>
<line x1="81.64" x2="86.5" y1="127.50" y2="127.50" stroke="#000" stroke-width="1.11"/>
<text x="52.60" y="131.40" font-size="12.2" text-anchor="start" fill="#000" textLength="23.0" lengthAdjust="spacingAndGlyphs">350</text>
<line x1="81.64" x2="86.5" y1="34.50" y2="34.50" stroke="#000" stroke-width="1.11"/>
<text x="52.60" y="38.40" font-size="12.2" text-anchor="start" fill="#000" textLength="23.0" lengthAdjust="spacingAndGlyphs">400</text>
<rect x="967.1" y="362.5" width="186.60000000000002" height="89.69999999999999" rx="4" ry="4" fill="#fff" fill-opacity="0.9" stroke="#1a8c1a" stroke-width="1.39"/>
<text x="1148.60" y="378.90" font-size="14.8" text-anchor="end" fill="#1a8c1a" textLength="169.4" lengthAdjust="spacingAndGlyphs">369.59 (+15.23 +4.30%)</text>
<text x="1148.60" y="394.80" font-size="14.8" text-anchor="end" fill="#1a8c1a" textLength="108.3" lengthAdjust="spacingAndGlyphs">327.91~402.37</text>
<text x="1148.60" y="410.80" font-size="14.8" text-anchor="end" fill="#1a8c1a" textLength="165.3" lengthAdjust="spacingAndGlyphs">358.44/359.11/372.84</text>
<text x="1148.60" y="427.00" font-size="14.8" text-anchor="end" fill="#1a8c1a" textLength="127.0" lengthAdjust="spacingAndGlyphs">2026-01-30 05:00</text>
<text y="444.9" font-size="14.8" fill="#1a8c1a"><tspan x="972.4" textLength="47.0" lengthAdjust="spacingAndGlyphs">+6.69/</tspan><tspan x="1020.6" textLength="28.6" lengthAdjust="spacingAndGlyphs">偏多</tspan><tspan x="1050.8" textLength="97.6" lengthAdjust="spacingAndGlyphs">/+3.94/+0.81</tspan></text>
<rect x="93.6" y="17.5" width="107.5" height="118.69999999999999" rx="2.8" ry="2.8" fill="#fff" fill-opacity="0.8" stroke="#ccc" stroke-opacity="0.8" stroke-width="1.11"/>
<line x1="97" x2="127" y1="26.8" y2="26.8" stroke="#000" stroke-width="2.08"/>
<line x1="97" x2="127" y1="47.0" y2="47.0" stroke="#008000" stroke-width="2.08"/>
<line x1="97" x2="127" y1="68.0" y2="68.0" stroke="#ff0000" stroke-width="2.08"/>
<line x1="97" x2="127" y1="87.3" y2="87.3" stroke="#800080" stroke-width="2.08"/>
<path d="M112.60,98.00L103.40,116.40L121.80,116.40Z" fill="#008000" stroke="#008000" stroke-width="2.08" stroke-linejoin="round"/>
<path d="M112.60,134.70L103.40,116.30L121.80,116.30Z" fill="#ff0000" stroke="#ff0000" stroke-width="2.08" stroke-linejoin="round"/>
<text x="138.00" y="31.80" font-size="12.2" text-anchor="start" fill="#000" textLength="32.8" lengthAdjust="spacingAndGlyphs">Close</text>
<text x="138.00" y="52.00" font-size="12.2" text-anchor="start" fill="#000" textLength="56.0" lengthAdjust="spacingAndGlyphs">MA50[买]</text>
<text x="138.00" y="73.00" font-size="12.2" text-anchor="start" fill="#000" textLength="56.0" lengthAdjust="spacingAndGlyphs">MA25[卖]</text>
<text x="138.00" y="91.70" font-size="12.2" text-anchor="start" fill="#000" textLength="41.8" lengthAdjust="spacingAndGlyphs">MA200</text>
<text x="138.00" y="110.00" font-size="12.2" text-anchor="start" fill="#000" textLength="20.5" lengthAdjust="spacingAndGlyphs">Buy</text>
<text x="138.00" y="129.20" font-size="12.2" text-anchor="start" fill="#000" textLength="21.0" lengthAdjust="spacingAndGlyphs">Sell</text>
<g clip-path="url(#c2)">
<line x1="213.50" x2="213.50" y1="486.5" y2="640.5" stroke="#b0b0b0" stroke-width="1.05"/>
<line x1="391.50" x2="391.50" y1="486.5" y2="640.5" stroke="#b0b0b0" stroke-width="1.05"/>
<line x1="570.50" x2="570.50" y1="486.5" y2="640.5" stroke="#b0b0b0" stroke-width="1.05"/>
<line x1="749.50" x2="749.50" y1="486.5" y2="640.5" stroke="#b0b0b0" stroke-width="1.05"/>
<line x1="928.50" x2="928.50" y1="486.5" y2="640.5" stroke="#b0b0b0" stroke-width="1.05"/>
<line x1="1107.50" x2="1107.50" y1="486.5" y2="640.5" stroke="#b0b0b0" stroke-width="1.05"/>
<line x1="86.5" x2="1171.5" y1="597.50" y2="597.50" stroke="#b0b0b0" stroke-width="1.05"/>
<line x1="86.5" x2="1171.5" y1="554.50" y2="554.50" stroke="#b0b0b0" stroke-width="1.05"/>
<line x1="86.5" x2="1171.5" y1="511.50" y2="511.50" stroke="#b0b0b0" stroke-width="1.05"/>
<path d="M136,640.5V618.8h1V640.5ZM137,640.5V600.5h1V640.5ZM143,640.5V622.9h1V640.5ZM144,640.5V622.3h1V640.5ZM146,640.5V610.1h1V640.5ZM147,640.5V613.5h1V640.5ZM149,640.5V615.0h1V640.5ZM150,640.5V624.4h1V640.5ZM151,640.5V617.8h1V640.5ZM153,640.5V609.6h1V640.5ZM154,640.5V618.7h1V640.5ZM156,640.5V611.5h1V640.5ZM157,640.5V625.0h1V640.5ZM158,640.5V614.1h1V640.5ZM160,640.5V610.6h1V640.5ZM161,640.5V597.9h1V640.5ZM166,640.5V623.4h1V640.5ZM167,640.5V606.9h1V640.5ZM168,640.5V610.9h1V640.5ZM170,640.5V619.0h1V640.5ZM171,640.5V621.9h1V640.5ZM173,640.5V607.9h1V640.5ZM174,640.5V611.2h1V640.5ZM175,640.5V618.9h1V640.5ZM177,640.5V623.6h1V640.5ZM178,640.5V618.5h1V640.5ZM180,640.5V604.6h1V640.5ZM181,640.5V612.3h1V640.5ZM182,640.5V603.4h1V640.5ZM183,640.5V597.9h1V640.5ZM184,640.5V602.1h1V640.5ZM190,640.5V619.7h1V640.5ZM191,640.5V606.6h1V640.5ZM192,640.5V606.1h1V640.5ZM194,640.5V616.0h1V640.5ZM195,640.5V621.9h1V640.5ZM197,640.5V617.5h1V640.5ZM198,640.5V618.3h1V640.5ZM199,640.5V622.6h1V640.5ZM201,640.5V619.5h1V640.5ZM202,640.5V620.7h1V640.5ZM204,640.5V631.0h1V640.5ZM205,640.5V625.2h1V640.5ZM206,640.5V625.9h1V640.5ZM208,640.5V630.5h1V640.5ZM214,640.5V623.3h1V640.5ZM215,640.5V623.1h1V640.5ZM216,640.5V617.7h1V640.5ZM218,640.5V616.1h1V640.5ZM219,640.5V608.8h1V640.5ZM221,640.5V610.9h1V640.5ZM222,640.5V615.1h1V640.5ZM223,640.5V608.3h1V640.5ZM225,640.5V610.9h1V640.5ZM226,640.5V578.5h1V640.5ZM228,640.5V618.7h1V640.5ZM229,640.5V613.8h1V640.5ZM230,640.5V613.6h1V640.5ZM238,640.5V606.2h1V640.5ZM239,640.5V608.1h1V640.5ZM240,640.5V609.9h1V640.5ZM242,640.5V607.2h1V640.5ZM243,640.5V606.5h1V640.5ZM245,640.5V620.3h1V640.5ZM246,640.5V617.3h1V640.5ZM247,640.5V599.5h1V640.5ZM249,640.5V604.0h1V640.5ZM250,640.5V603.3h1V640.5ZM252,640.5V597.7h1V640.5ZM253,640.5V598.9h1V640.5ZM254,640.5V598.5h1V640.5ZM255,640.5V575.5h1V640.5ZM256,640.5V582.0h1V640.5ZM260,640.5V620.1h1V640.5ZM262,640.5V611.4h1V640.5ZM263,640.5V618.2h1V640.5ZM264,640.5V624.7h1V640.5ZM266,640.5V616.7h1V640.5ZM267,640.5V619.1h1V640.5ZM269,640.5V621.0h1V640.5ZM270,640.5V615.3h1V640.5ZM271,640.5V623.2h1V640.5ZM273,640.5V621.0h1V640.5ZM274,640.5V621.9h1V640.5ZM276,640.5V621.6h1V640.5ZM277,640.5V622.4h1V640.5ZM278,640.5V612.4h1V640.5ZM284,640.5V622.2h1V640.5ZM286,640.5V622.1h1V640.5ZM287,640.5V616.2h1V640.5ZM288,640.5V618.1h1V640.5ZM290,640.5V610.3h1V640.5ZM291,640.5V615.3h1V640.5ZM293,640.5V625.1h1V640.5ZM294,640.5V621.9h1V640.5ZM295,640.5V618.5h1V640.5ZM297,640.5V622.6h1V640.5ZM298,640.5V626.8h1V640.5ZM300,640.5V623.5h1V640.5ZM301,640.5V616.5h1V640.5ZM302,640.5V613.4h1V640.5ZM307,640.5V625.1h1V640.5ZM308,640.5V594.4h1V640.5ZM310,640.5V616.8h1V640.5ZM311,640.5V621.1h1V640.5ZM312,640.5V627.0h1V640.5ZM314,640.5V573.3h1V640.5ZM315,640.5V623.6h1V640.5ZM317,640.5V615.9h1V640.5ZM318,640.5V619.2h1V640.5ZM319,640.5V627.6h1V640.5ZM321,640.5V620.0h1V640.5ZM322,640.5V615.4h1V640.5ZM324,640.5V618.6h1V640.5ZM325,640.5V622.0h1V640.5ZM331,640.5V628.9h1V640.5ZM332,640.5V625.4h1V640.5ZM334,640.5V630.1h1V640.5ZM335,640.5V625.1h1V640.5ZM336,640.5V630.2h1V640.5ZM338,640.5V622.0h1V640.5ZM339,640.5V625.5h1V640.5ZM341,640.5V625.3h1V640.5ZM342,640.5V627.9h1V640.5ZM343,640.5V624.1h1V640.5ZM345,640.5V619.0h1V640.5ZM346,640.5V621.2h1V640.5ZM348,640.5V622.0h1V640.5ZM349,640.5V623.2h1V640.5ZM355,640.5V627.4h1V640.5ZM356,640.5V620.0h1V640.5ZM358,640.5V621.5h1V640.5ZM359,640.5V624.6h1V640.5ZM360,640.5V622.3h1V640.5ZM362,640.5V627.8h1V640.5ZM363,640.5V623.8h1V640.5ZM365,640.5V628.0h1V640.5ZM366,640.5V616.8h1V640.5ZM367,640.5V623.8h1V640.5ZM369,640.5V617.2h1V640.5ZM370,640.5V591.4h1V640.5ZM372,640.5V627.4h1V640.5ZM379,640.5V621.2h1V640.5ZM380,640.5V620.7h1V640.5ZM382,640.5V618.4h1V640.5ZM383,640.5V614.5h1V640.5ZM384,640.5V618.9h1V640.5ZM386,640.5V610.5h1V640.5ZM387,640.5V616.1h1V640.5ZM389,640.5V618.2h1V640.5ZM390,640.5V612.5h1V640.5ZM391,640.5V622.5h1V640.5ZM393,640.5V601.6h1V640.5ZM394,640.5V604.5h1V640.5ZM396,640.5V609.1h1V640.5ZM401,640.5V593.1h1V640.5ZM403,640.5V600.9h1V640.5ZM404,640.5V582.0h1V640.5ZM406,640.5V602.7h1V640.5ZM407,640.5V591.3h1V640.5ZM408,640.5V607.3h1V640.5ZM410,640.5V611.4h1V640.5ZM411,640.5V599.2h1V640.5ZM413,640.5V600.1h1V640.5ZM414,640.5V593.9h1V640.5ZM415,640.5V614.2h1V640.5ZM417,640.5V596.8h1V640.5ZM418,640.5V593.9h1V640.5ZM423,640.5V581.1h1V640.5ZM425,640.5V604.5h1V640.5ZM427,640.5V599.0h1V640.5ZM428,640.5V591.5h1V640.5ZM430,640.5V609.7h1V640.5ZM431,640.5V602.8h1V640.5ZM432,640.5V593.8h1V640.5ZM434,640.5V586.5h1V640.5ZM435,640.5V605.1h1V640.5ZM437,640.5V587.1h1V640.5ZM438,640.5V604.2h1V640.5ZM439,640.5V586.7h1V640.5ZM441,640.5V594.4h1V640.5ZM442,640.5V593.7h1V640.5ZM444,640.5V569.0h1V640.5ZM448,640.5V592.6h1V640.5ZM449,640.5V506.2h1V640.5ZM451,640.5V602.7h1V640.5ZM452,640.5V592.6h1V640.5ZM454,640.5V587.6h1V640.5ZM455,640.5V602.5h1V640.5ZM456,640.5V591.9h1V640.5ZM458,640.5V597.2h1V640.5ZM459,640.5V603.1h1V640.5ZM461,640.5V603.6h1V640.5ZM462,640.5V604.1h1V640.5ZM463,640.5V605.8h1V640.5ZM465,640.5V612.5h1V640.5ZM466,640.5V609.5h1V640.5ZM472,640.5V605.0h1V640.5ZM473,640.5V614.4h1V640.5ZM475,640.5V613.5h1V640.5ZM476,640.5V604.6h1V640.5ZM478,640.5V617.2h1V640.5ZM479,640.5V612.9h1V640.5ZM480,640.5V610.3h1V640.5ZM482,640.5V612.2h1V640.5ZM483,640.5V605.5h1V640.5ZM485,640.5V614.3h1V640.5ZM486,640.5V597.3h1V640.5ZM487,640.5V611.0h1V640.5ZM489,640.5V613.5h1V640.5ZM490,640.5V608.3h1V640.5ZM493,640.5V523.4h1V640.5ZM495,640.5V608.5h1V640.5ZM496,640.5V592.0h1V640.5ZM497,640.5V612.4h1V640.5ZM499,640.5V591.2h1V640.5ZM500,640.5V596.1h1V640.5ZM502,640.5V605.2h1V640.5ZM503,640.5V588.1h1V640.5ZM504,640.5V599.0h1V640.5ZM506,640.5V587.1h1V640.5ZM507,640.5V604.5h1V640.5ZM509,640.5V601.4h1V640.5ZM510,640.5V603.6h1V640.5ZM511,640.5V615.3h1V640.5ZM513,640.5V586.4h1V640.5ZM514,640.5V541.1h1V640.5ZM519,640.5V601.6h1V640.5ZM520,640.5V590.2h1V640.5ZM521,640.5V588.9h1V640.5ZM523,640.5V611.6h1V640.5ZM524,640.5V594.9h1V640.5ZM526,640.5V614.5h1V640.5ZM527,640.5V616.3h1V640.5ZM528,640.5V588.8h1V640.5ZM530,640.5V559.1h1V640.5ZM531,640.5V595.4h1V640.5ZM533,640.5V588.4h1V640.5ZM534,640.5V608.7h1V640.5ZM535,640.5V588.5h1V640.5ZM537,640.5V599.5h1V640.5ZM540,640.5V498.0h1V640.5ZM543,640.5V603.3h1V640.5ZM544,640.5V601.0h1V640.5ZM545,640.5V591.6h1V640.5ZM547,640.5V605.1h1V640.5ZM548,640.5V598.4h1V640.5ZM550,640.5V607.7h1V640.5ZM551,640.5V583.2h1V640.5ZM552,640.5V582.8h1V640.5ZM554,640.5V592.2h1V640.5ZM555,640.5V585.8h1V640.5ZM557,640.5V584.6h1V640.5ZM558,640.5V537.2h1V640.5ZM559,640.5V581.7h1V640.5ZM567,640.5V594.9h1V640.5ZM568,640.5V602.8h1V640.5ZM569,640.5V614.6h1V640.5ZM571,640.5V601.5h1V640.5ZM572,640.5V597.7h1V640.5ZM574,640.5V585.4h1V640.5ZM575,640.5V611.8h1V640.5ZM576,640.5V593.4h1V640.5ZM578,640.5V602.5h1V640.5ZM579,640.5V605.1h1V640.5ZM581,640.5V590.8h1V640.5ZM582,640.5V609.9h1V640.5ZM583,640.5V611.5h1V640.5ZM585,640.5V494.6h1V640.5ZM588,640.5V550.5h1V640.5ZM589,640.5V602.1h1V640.5ZM591,640.5V590.0h1V640.5ZM592,640.5V606.4h1V640.5ZM593,640.5V593.7h1V640.5ZM595,640.5V613.8h1V640.5ZM596,640.5V597.3h1V640.5ZM598,640.5V602.2h1V640.5ZM599,640.5V602.2h1V640.5ZM600,640.5V610.3h1V640.5ZM602,640.5V604.2h1V640.5ZM603,640.5V609.3h1V640.5ZM605,640.5V560.0h1V640.5ZM606,640.5V605.7h1V640.5ZM607,640.5V608.5h1V640.5ZM613,640.5V614.1h1V640.5ZM615,640.5V604.2h1V640.5ZM616,640.5V606.9h1V640.5ZM617,640.5V616.3h1V640.5ZM619,640.5V618.8h1V640.5ZM620,640.5V616.9h1V640.5ZM622,640.5V607.9h1V640.5ZM623,640.5V606.1h1V640.5ZM624,640.5V609.9h1V640.5ZM626,640.5V621.9h1V640.5ZM627,640.5V609.1h1V640.5ZM629,640.5V572.9h1V640.5ZM630,640.5V621.3h1V640.5ZM631,640.5V607.8h1V640.5ZM636,640.5V618.9h1V640.5ZM637,640.5V613.1h1V640.5ZM639,640.5V612.6h1V640.5ZM640,640.5V623.1h1V640.5ZM641,640.5V613.7h1V640.5ZM643,640.5V602.5h1V640.5ZM644,640.5V603.3h1V640.5ZM646,640.5V603.1h1V640.5ZM647,640.5V613.0h1V640.5ZM648,640.5V617.9h1V640.5ZM650,640.5V545.4h1V640.5ZM651,640.5V616.1h1V640.5ZM653,640.5V612.3h1V640.5ZM654,640.5V614.6h1V640.5ZM660,640.5V610.1h1V640.5ZM661,640.5V598.0h1V640.5ZM663,640.5V612.2h1V640.5ZM664,640.5V612.9h1V640.5ZM665,640.5V620.4h1V640.5ZM667,640.5V610.9h1V640.5ZM668,640.5V601.7h1V640.5ZM670,640.5V609.8h1V640.5ZM671,640.5V610.9h1V640.5ZM672,640.5V606.7h1V640.5ZM674,640.5V600.7h1V640.5ZM675,640.5V554.8h1V640.5ZM677,640.5V609.8h1V640.5ZM678,640.5V612.2h1V640.5ZM684,640.5V623.7h1V640.5ZM685,640.5V624.9h1V640.5ZM687,640.5V625.6h1V640.5ZM688,640.5V621.3h1V640.5ZM689,640.5V626.2h1V640.5ZM691,640.5V622.2h1V640.5ZM692,640.5V616.9h1V640.5ZM694,640.5V621.7h1V640.5ZM695,640.5V616.7h1V640.5ZM696,640.5V622.1h1V640.5ZM698,640.5V622.2h1V640.5ZM699,640.5V626.6h1V640.5ZM701,640.5V584.1h1V640.5ZM708,640.5V596.3h1V640.5ZM709,640.5V584.1h1V640.5ZM711,640.5V604.1h1V640.5ZM712,640.5V599.8h1V640.5ZM713,640.5V610.6h1V640.5ZM715,640.5V587.1h1V640.5ZM716,640.5V617.6h1V640.5ZM718,640.5V610.1h1V640.5ZM719,640.5V604.1h1V640.5ZM720,640.5V601.9h1V640.5ZM722,640.5V592.1h1V640.5ZM723,640.5V588.4h1V640.5ZM725,640.5V600.5h1V640.5ZM732,640.5V615.0h1V640.5ZM733,640.5V619.4h1V640.5ZM735,640.5V613.3h1V640.5ZM736,640.5V608.3h1V640.5ZM737,640.5V615.0h1V640.5ZM739,640.5V615.8h1V640.5ZM740,640.5V616.7h1V640.5ZM742,640.5V622.9h1V640.5ZM743,640.5V608.7h1V640.5ZM744,640.5V619.5h1V640.5ZM746,640.5V609.7h1V640.5ZM747,640.5V615.3h1V640.5ZM754,640.5V610.7h1V640.5ZM756,640.5V621.4h1V640.5ZM757,640.5V614.2h1V640.5ZM759,640.5V624.7h1V640.5ZM760,640.5V615.0h1V640.5ZM761,640.5V625.4h1V640.5ZM763,640.5V616.1h1V640.5ZM764,640.5V591.4h1V640.5ZM766,640.5V614.0h1V640.5ZM767,640.5V609.2h1V640.5ZM768,640.5V624.8h1V640.5ZM770,640.5V615.8h1V640.5ZM771,640.5V612.8h1V640.5ZM778,640.5V615.3h1V640.5ZM780,640.5V623.5h1V640.5ZM781,640.5V619.9h1V640.5ZM783,640.5V618.0h1V640.5ZM784,640.5V614.5h1V640.5ZM785,640.5V625.7h1V640.5ZM787,640.5V615.6h1V640.5ZM788,640.5V613.9h1V640.5ZM790,640.5V620.4h1V640.5ZM791,640.5V623.0h1V640.5ZM792,640.5V624.4h1V640.5ZM794,640.5V625.2h1V640.5ZM795,640.5V622.4h1V640.5ZM801,640.5V613.7h1V640.5ZM802,640.5V621.8h1V640.5ZM804,640.5V617.1h1V640.5ZM805,640.5V620.8h1V640.5ZM807,640.5V629.1h1V640.5ZM808,640.5V587.1h1V640.5ZM809,640.5V622.8h1V640.5ZM811,640.5V627.6h1V640.5ZM812,640.5V618.9h1V640.5ZM814,640.5V626.4h1V640.5ZM815,640.5V629.1h1V640.5ZM816,640.5V615.6h1V640.5ZM818,640.5V620.1h1V640.5ZM819,640.5V623.9h1V640.5ZM825,640.5V628.1h1V640.5ZM826,640.5V622.0h1V640.5ZM828,640.5V617.3h1V640.5ZM829,640.5V625.7h1V640.5ZM831,640.5V615.3h1V640.5ZM832,640.5V625.4h1V640.5ZM833,640.5V620.8h1V640.5ZM835,640.5V619.9h1V640.5ZM836,640.5V620.4h1V640.5ZM838,640.5V620.7h1V640.5ZM839,640.5V618.8h1V640.5ZM840,640.5V624.2h1V640.5ZM842,640.5V623.8h1V640.5ZM848,640.5V614.4h1V640.5ZM849,640.5V610.1h1V640.5ZM850,640.5V614.3h1V640.5ZM852,640.5V589.3h1V640.5ZM853,640.5V607.7h1V640.5ZM855,640.5V583.7h1V640.5ZM856,640.5V605.2h1V640.5ZM857,640.5V600.6h1V640.5ZM859,640.5V601.9h1V640.5ZM860,640.5V614.4h1V640.5ZM862,640.5V618.2h1V640.5ZM863,640.5V617.2h1V640.5ZM864,640.5V617.8h1V640.5ZM866,640.5V618.8h1V640.5ZM872,640.5V615.7h1V640.5ZM873,640.5V621.2h1V640.5ZM874,640.5V617.7h1V640.5ZM876,640.5V614.5h1V640.5ZM877,640.5V616.8h1V640.5ZM879,640.5V621.8h1V640.5ZM880,640.5V619.5h1V640.5ZM881,640.5V617.7h1V640.5ZM883,640.5V614.3h1V640.5ZM884,640.5V621.6h1V640.5ZM886,640.5V622.5h1V640.5ZM887,640.5V616.4h1V640.5ZM888,640.5V613.4h1V640.5ZM896,640.5V622.0h1V640.5ZM897,640.5V591.9h1V640.5ZM898,640.5V623.0h1V640.5ZM900,640.5V618.9h1V640.5ZM901,640.5V611.2h1V640.5ZM903,640.5V618.2h1V640.5ZM904,640.5V618.6h1V640.5ZM905,640.5V586.3h1V640.5ZM907,640.5V620.5h1V640.5ZM908,640.5V622.3h1V640.5ZM910,640.5V620.9h1V640.5ZM911,640.5V619.6h1V640.5ZM912,640.5V620.1h1V640.5ZM920,640.5V627.5h1V640.5ZM921,640.5V620.0h1V640.5ZM922,640.5V620.4h1V640.5ZM924,640.5V625.9h1V640.5ZM925,640.5V623.1h1V640.5ZM927,640.5V622.6h1V640.5ZM928,640.5V620.3h1V640.5ZM929,640.5V614.7h1V640.5ZM931,640.5V612.7h1V640.5ZM932,640.5V607.0h1V640.5ZM934,640.5V617.7h1V640.5ZM935,640.5V611.1h1V640.5ZM936,640.5V615.5h1V640.5ZM942,640.5V614.5h1V640.5ZM944,640.5V614.0h1V640.5ZM945,640.5V606.4h1V640.5ZM946,640.5V613.0h1V640.5ZM948,640.5V605.9h1V640.5ZM949,640.5V604.9h1V640.5ZM951,640.5V608.6h1V640.5ZM952,640.5V605.4h1V640.5ZM953,640.5V619.4h1V640.5ZM955,640.5V590.1h1V640.5ZM956,640.5V605.9h1V640.5ZM958,640.5V608.5h1V640.5ZM959,640.5V619.2h1V640.5ZM960,640.5V612.2h1V640.5ZM962,640.5V587.1h1V640.5ZM966,640.5V620.1h1V640.5ZM968,640.5V606.5h1V640.5ZM969,640.5V616.0h1V640.5ZM970,640.5V618.1h1V640.5ZM972,640.5V611.7h1V640.5ZM973,640.5V616.4h1V640.5ZM975,640.5V559.1h1V640.5ZM976,640.5V606.7h1V640.5ZM977,640.5V617.2h1V640.5ZM979,640.5V601.6h1V640.5ZM980,640.5V598.9h1V640.5ZM982,640.5V606.3h1V640.5ZM983,640.5V600.9h1V640.5ZM984,640.5V604.4h1V640.5ZM987,640.5V567.3h1V640.5ZM989,640.5V611.9h1V640.5ZM990,640.5V601.0h1V640.5ZM992,640.5V611.1h1V640.5ZM993,640.5V613.1h1V640.5ZM994,640.5V612.3h1V640.5ZM996,640.5V609.5h1V640.5ZM997,640.5V608.5h1V640.5ZM999,640.5V623.7h1V640.5ZM1000,640.5V622.7h1V640.5ZM1001,640.5V621.2h1V640.5ZM1003,640.5V629.0h1V640.5ZM1004,640.5V621.0h1V640.5ZM1006,640.5V621.7h1V640.5ZM1007,640.5V625.1h1V640.5ZM1013,640.5V594.4h1V640.5ZM1014,640.5V606.1h1V640.5ZM1016,640.5V618.9h1V640.5ZM1017,640.5V609.2h1V640.5ZM1018,640.5V618.9h1V640.5ZM1020,640.5V605.9h1V640.5ZM1021,640.5V609.9h1V640.5ZM1023,640.5V607.4h1V640.5ZM1024,640.5V606.9h1V640.5ZM1025,640.5V620.4h1V640.5ZM1027,640.5V607.1h1V640.5ZM1028,640.5V588.4h1V640.5ZM1030,640.5V622.8h1V640.5ZM1031,640.5V618.0h1V640.5ZM1034,640.5V595.3h1V640.5ZM1037,640.5V614.1h1V640.5ZM1038,640.5V612.5h1V640.5ZM1040,640.5V620.0h1V640.5ZM1041,640.5V615.0h1V640.5ZM1042,640.5V625.3h1V640.5ZM1044,640.5V622.7h1V640.5ZM1045,640.5V617.8h1V640.5ZM1047,640.5V620.7h1V640.5ZM1048,640.5V627.6h1V640.5ZM1049,640.5V617.7h1V640.5ZM1051,640.5V625.5h1V640.5ZM1052,640.5V628.0h1V640.5ZM1054,640.5V622.0h1V640.5ZM1061,640.5V625.8h1V640.5ZM1062,640.5V625.2h1V640.5ZM1064,640.5V616.5h1V640.5ZM1065,640.5V614.6h1V640.5ZM1066,640.5V608.0h1V640.5ZM1068,640.5V607.5h1V640.5ZM1069,640.5V609.6h1V640.5ZM1071,640.5V616.0h1V640.5ZM1072,640.5V606.0h1V640.5ZM1073,640.5V610.8h1V640.5ZM1075,640.5V623.1h1V640.5ZM1076,640.5V621.9h1V640.5ZM1077,640.5V586.3h1V640.5ZM1078,640.5V611.2h1V640.5ZM1083,640.5V611.8h1V640.5ZM1085,640.5V585.4h1V640.5ZM1086,640.5V617.7h1V640.5ZM1088,640.5V617.4h1V640.5ZM1089,640.5V609.5h1V640.5ZM1090,640.5V617.2h1V640.5ZM1092,640.5V606.6h1V640.5ZM1093,640.5V599.9h1V640.5ZM1095,640.5V612.0h1V640.5ZM1096,640.5V612.7h1V640.5ZM1097,640.5V600.6h1V640.5ZM1099,640.5V606.5h1V640.5ZM1100,640.5V601.9h1V640.5ZM1107,640.5V615.6h1V640.5ZM1109,640.5V609.8h1V640.5ZM1110,640.5V608.2h1V640.5ZM1112,640.5V610.8h1V640.5ZM1113,640.5V602.5h1V640.5ZM1114,640.5V611.7h1V640.5ZM1116,640.5V595.0h1V640.5ZM1117,640.5V614.7h1V640.5ZM1119,640.5V603.6h1V640.5ZM1120,640.5V567.3h1V640.5ZM1121,640.5V583.7h1V640.5Z" fill="#808080" fill-opacity="0.5" shape-rendering="crispEdges"/>
</g>
<rect x="86.5" y="486.5" width="1085.0" height="154.0" fill="none" stroke="#000" stroke-width="1.11"/>
<line x1="81.64" x2="86.5" y1="640.50" y2="640.50" stroke="#000" stroke-width="1.11"/>
<text x="75.60" y="644.40" font-size="12.2" text-anchor="end" fill="#000" textLength="7.8" lengthAdjust="spacingAndGlyphs">0</text>
<line x1="81.64" x2="86.5" y1="597.50" y2="597.50" stroke="#000" stroke-width="1.11"/>
<text x="75.60" y="601.40" font-size="12.2" text-anchor="end" fill="#000" textLength="48.0" lengthAdjust="spacingAndGlyphs">100000</text>
<line x1="81.64" x2="86.5" y1="554.50" y2="554.50" stroke="#000" stroke-width="1.11"/>
<text x="75.60" y="558.40" font-size="12.2" text-anchor="end" fill="#000" textLength="48.0" lengthAdjust="spacingAndGlyphs">200000</text>
<line x1="81.64" x2="86.5" y1="511.50" y2="511.50" stroke="#000" stroke-width="1.11"/>
<text x="75.60" y="515.40" font-size="12.2" text-anchor="end" fill="#000" textLength="48.0" lengthAdjust="spacingAndGlyphs">300000</text>
<text x="213.20" y="659.70" font-size="12.2" text-anchor="middle" fill="#000" textLength="52.8" lengthAdjust="spacingAndGlyphs">2021-01</text>
<text x="391.90" y="659.70" font-size="12.2" text-anchor="middle" fill="#000" textLength="52.8" lengthAdjust="spacingAndGlyphs">2022-01</text>
<text x="570.60" y="659.70" font-size="12.2" text-anchor="middle" fill="#000" textLength="52.8" lengthAdjust="spacingAndGlyphs">2023-01</text>
<text x="749.30" y="659.70" font-size="12.2" text-anchor="middle" fill="#000" textLength="52.8" lengthAdjust="spacingAndGlyphs">2024-01</text>
<text x="928.49" y="659.70" font-size="12.2" text-anchor="middle" fill="#000" textLength="52.8" lengthAdjust="spacingAndGlyphs">2025-01</text>
<text x="1107.19" y="659.70" font-size="12.2" text-anchor="middle" fill="#000" textLength="52.8" lengthAdjust="spacingAndGlyphs">2026-01</text>
<text transform="translate(18.0,565.3) rotate(-90)" font-size="12.2" text-anchor="middle" textLength="43" lengthAdjust="spacingAndGlyphs">Volume</text>
<text y="696.0" font-size="16.0"><tspan x="86.4" textLength="29.4" lengthAdjust="spacingAndGlyphs">SYK</tspan> <tspan x="121.3" textLength="70.6" lengthAdjust="spacingAndGlyphs">交易次数:</tspan> <tspan x="198.0" textLength="9.0" lengthAdjust="spacingAndGlyphs">4</tspan></text>
<text x="86.20" y="717.40" font-size="16.0" text-anchor="start" fill="#000" textLength="175.8" lengthAdjust="spacingAndGlyphs">策略总收益率: 102.99%</text>
<text x="86.20" y="736.20" font-size="16.0" text-anchor="start" fill="#000" textLength="165.8" lengthAdjust="spacingAndGlyphs">长期持有收益: 90.61%</text>
<text x="86.20" y="756.50" font-size="16.0" text-anchor="start" fill="#000" textLength="70.2" lengthAdjust="spacingAndGlyphs">交易记录:</text>
<text x="96.30" y="772.60" font-size="16.0" text-anchor="start" fill="#000" textLength="64.1" lengthAdjust="spacingAndGlyphs">Buy Date</text>
<text x="171.80" y="772.60" font-size="16.0" text-anchor="start" fill="#000" textLength="65.6" lengthAdjust="spacingAndGlyphs">Buy Price</text>
<text x="248.90" y="772.60" font-size="16.0" text-anchor="start" fill="#000" textLength="64.8" lengthAdjust="spacingAndGlyphs">Sell Date</text>
<text x="325.20" y="772.60" font-size="16.0" text-anchor="start" fill="#000" textLength="66.9" lengthAdjust="spacingAndGlyphs">Sell Price</text>
<text x="403.00" y="772.60" font-size="16.0" text-anchor="start" fill="#000" textLength="93.8" lengthAdjust="spacingAndGlyphs">Holding Days</text>
<text x="507.80" y="772.60" font-size="16.0" text-anchor="start" fill="#000" textLength="53.3" lengthAdjust="spacingAndGlyphs">Profit %</text>
<text x="86.20" y="789.80" font-size="16.0" text-anchor="start" fill="#000" textLength="88.8" lengthAdjust="spacingAndGlyphs">2020-10-28</text>
<text x="201.50" y="789.80" font-size="16.0" text-anchor="start" fill="#000" textLength="53.3" lengthAdjust="spacingAndGlyphs">193.90</text>
<text x="261.20" y="789.80" font-size="16.0" text-anchor="start" fill="#000" textLength="88.0" lengthAdjust="spacingAndGlyphs">2021-05-05</text>
<text x="380.50" y="789.80" font-size="16.0" text-anchor="start" fill="#000" textLength="53.9" lengthAdjust="spacingAndGlyphs">241.11</text>
<text x="490.40" y="789.80" font-size="16.0" text-anchor="start" fill="#000" textLength="29.2" lengthAdjust="spacingAndGlyphs">189</text>
<text x="545.80" y="789.80" font-size="16.0" text-anchor="start" fill="#000" textLength="43.2" lengthAdjust="spacingAndGlyphs">24.35</text>
<text x="86.20" y="807.20" font-size="16.0" text-anchor="start" fill="#000" textLength="88.8" lengthAdjust="spacingAndGlyphs">2021-05-12</text>
<text x="201.50" y="807.20" font-size="16.0" text-anchor="start" fill="#000" textLength="53.3" lengthAdjust="spacingAndGlyphs">233.10</text>
<text x="261.20" y="807.20" font-size="16.0" text-anchor="start" fill="#000" textLength="88.0" lengthAdjust="spacingAndGlyphs">2023-05-08</text>
<text x="380.50" y="807.20" font-size="16.0" text-anchor="start" fill="#000" textLength="53.9" lengthAdjust="spacingAndGlyphs">280.93</text>
<text x="490.40" y="807.20" font-size="16.0" text-anchor="start" fill="#000" textLength="29.2" lengthAdjust="spacingAndGlyphs">726</text>
<text x="545.80" y="807.20" font-size="16.0" text-anchor="start" fill="#000" textLength="43.2" lengthAdjust="spacingAndGlyphs">20.52</text>
<text x="86.20" y="824.70" font-size="16.0" text-anchor="start" fill="#000" textLength="88.8" lengthAdjust="spacingAndGlyphs">2023-05-17</text>
<text x="201.50" y="824.70" font-size="16.0" text-anchor="start" fill="#000" textLength="53.3" lengthAdjust="spacingAndGlyphs">276.64</text>
<text x="261.20" y="824.70" font-size="16.0" text-anchor="start" fill="#000" textLength="88.0" lengthAdjust="spacingAndGlyphs">2024-03-20</text>
<text x="380.50" y="824.70" font-size="16.0" text-anchor="start" fill="#000" textLength="53.9" lengthAdjust="spacingAndGlyphs">346.69</text>
<text x="490.40" y="824.70" font-size="16.0" text-anchor="start" fill="#000" textLength="29.2" lengthAdjust="spacingAndGlyphs">308</text>
<text x="545.80" y="824.70" font-size="16.0" text-anchor="start" fill="#000" textLength="43.2" lengthAdjust="spacingAndGlyphs">25.32</text>
<text x="86.20" y="842.10" font-size="16.0" text-anchor="start" fill="#000" textLength="88.8" lengthAdjust="spacingAndGlyphs">2024-04-10</text>
<text x="201.50" y="842.10" font-size="16.0" text-anchor="start" fill="#000" textLength="53.3" lengthAdjust="spacingAndGlyphs">341.95</text>
<text x="261.20" y="842.10" font-size="16.0" text-anchor="start" fill="#000" textLength="88.0" lengthAdjust="spacingAndGlyphs">2026-01-30</text>
<text x="380.50" y="842.10" font-size="16.0" text-anchor="start" fill="#000" textLength="53.9" lengthAdjust="spacingAndGlyphs">369.59</text>
<text x="490.40" y="842.10" font-size="16.0" text-anchor="start" fill="#000" textLength="29.2" lengthAdjust="spacingAndGlyphs">660</text>
<text x="550.10" y="842.10" font-size="16.0" text-anchor="start" fill="#000" textLength="34.3" lengthAdjust="spacingAndGlyphs">8.08</text>
</svg>
</body></html>
